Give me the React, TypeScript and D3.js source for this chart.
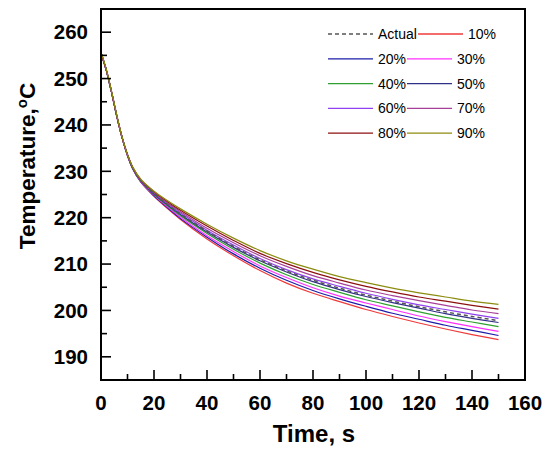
import React from "react";
import * as d3 from "d3";

// Sample times (s)
const times = [0, 2, 4, 6, 8, 10, 12, 15, 20, 25, 30, 40, 50, 60, 70, 80, 90, 100, 110, 120, 130, 140, 150];

// Shared initial cooling segment (t = 0..6 s)
const head = [255.5, 251.8, 247.0, 241.8];

const actual = [...head, 237.2, 233.5, 230.7, 228.0, 225.2, 222.9, 220.8, 217.1, 213.8, 210.9, 208.5, 206.5, 204.8, 203.3, 202.0, 200.8, 199.7, 198.7, 197.8];
const p10 = [...head, 237.2, 233.4, 230.5, 227.7, 224.6, 222.0, 219.6, 215.4, 211.8, 208.6, 205.9, 203.7, 201.9, 200.2, 198.7, 197.3, 196.0, 194.8, 193.7];
const p20 = [...head, 237.2, 233.4, 230.5, 227.7, 224.7, 222.2, 219.8, 215.8, 212.2, 209.1, 206.5, 204.3, 202.5, 200.9, 199.4, 198.1, 196.8, 195.7, 194.6];
const p30 = [...head, 237.2, 233.4, 230.6, 227.8, 224.9, 222.4, 220.1, 216.1, 212.7, 209.6, 207.1, 204.9, 203.1, 201.6, 200.2, 198.8, 197.6, 196.5, 195.5];
const p40 = [...head, 237.2, 233.5, 230.6, 227.9, 225.0, 222.6, 220.4, 216.6, 213.2, 210.2, 207.7, 205.6, 203.9, 202.3, 201.0, 199.7, 198.5, 197.5, 196.5];
const p50 = [...head, 237.2, 233.5, 230.7, 228.0, 225.1, 222.8, 220.7, 216.9, 213.6, 210.7, 208.3, 206.2, 204.5, 203.0, 201.7, 200.5, 199.3, 198.3, 197.4];
const p60 = [...head, 237.2, 233.5, 230.7, 228.0, 225.3, 223.0, 221.0, 217.3, 214.1, 211.2, 208.8, 206.8, 205.2, 203.7, 202.4, 201.2, 200.2, 199.2, 198.3];
const p70 = [...head, 237.2, 233.6, 230.8, 228.1, 225.4, 223.2, 221.3, 217.7, 214.6, 211.8, 209.5, 207.5, 205.9, 204.4, 203.2, 202.1, 201.1, 200.1, 199.3];
const p80 = [...head, 237.2, 233.6, 230.8, 228.2, 225.6, 223.5, 221.6, 218.2, 215.1, 212.3, 210.1, 208.2, 206.6, 205.2, 204.0, 202.9, 202.0, 201.1, 200.3];
const p90 = [255.7, 252.0, 247.2, 242.0, 237.3, 233.6, 230.9, 228.3, 225.7, 223.7, 221.9, 218.6, 215.6, 212.9, 210.7, 208.9, 207.3, 206.0, 204.8, 203.8, 202.9, 202.0, 201.3];

const seriesNames = ["Actual", "10%", "20%", "30%", "40%", "50%", "60%", "70%", "80%", "90%"];
const seriesValues = [actual, p10, p20, p30, p40, p50, p60, p70, p80, p90];
const seriesColors = ["#555555", "#f03a3a", "#1c1ca8", "#ff30ff", "#30a030", "#303088", "#9040f0", "#a8409a", "#8c1010", "#8c8c10"];

const xTicks = [0, 20, 40, 60, 80, 100, 120, 140, 160];
const yTicks = [190, 200, 210, 220, 230, 240, 250, 260];

const W = 551;
const H = 453;
const left = 101;
const right = 525;
const top = 9;
const bottom = 380;

export default function App() {
  const x = d3.scaleLinear().domain([0, 160]).range([left, right]);
  const y = d3.scaleLinear().domain([185, 265]).range([bottom, top]);

  const line = d3
    .line<number>()
    .x((_, i) => x(times[i]))
    .y((v) => y(v))
    .curve(d3.curveCatmullRom.alpha(0.5));

  const xMinor = d3.range(10, 160, 20);
  const yMinor = d3.range(195, 265, 10);

  const font = "'Liberation Sans', Arial, sans-serif";

  // percentage series first, dashed actual over the middle ones, 90% last
  const drawOrder = [1, 2, 3, 4, 5, 6, 7, 8, 0, 9];

  const legendRows = [
    [0, 1],
    [2, 3],
    [4, 5],
    [6, 7],
    [8, 9],
  ];

  return (
    <svg
      width={W}
      height={H}
      style={{ position: "absolute", left: 0, top: 0, background: "#fff" }}
      fontFamily={font}
    >
      <rect width={W} height={H} fill="#fff" />

      <defs>
        <clipPath id="plotArea">
          <rect x={left} y={top} width={right - left} height={bottom - top} />
        </clipPath>
      </defs>

      {/* cooling curves */}
      <g clipPath="url(#plotArea)">
        {drawOrder.map((k) => (
          <path
            key={seriesNames[k]}
            d={line(seriesValues[k]) || ""}
            fill="none"
            stroke={seriesColors[k]}
            strokeWidth={k === 0 ? 1.5 : 1.2}
            strokeDasharray={k === 0 ? "4,3" : undefined}
          />
        ))}
      </g>

      {/* frame */}
      <rect
        x={left}
        y={top}
        width={right - left}
        height={bottom - top}
        fill="none"
        stroke="#000"
        strokeWidth={2}
      />

      {/* x ticks */}
      {xTicks.map((t) => (
        <g key={"xt" + t}>
          <line x1={x(t)} x2={x(t)} y1={bottom} y2={bottom - 10} stroke="#000" strokeWidth={1.6} />
          <text x={x(t)} y={410} textAnchor="middle" fontSize={20.5} fontWeight="bold" fill="#000">
            {t}
          </text>
        </g>
      ))}
      {xMinor.map((t) => (
        <line key={"xm" + t} x1={x(t)} x2={x(t)} y1={bottom} y2={bottom - 6} stroke="#000" strokeWidth={1.6} />
      ))}

      {/* y ticks */}
      {yTicks.map((v) => (
        <g key={"yt" + v}>
          <line x1={left} x2={left + 10} y1={y(v)} y2={y(v)} stroke="#000" strokeWidth={1.6} />
          <text x={88} y={y(v) + 7.3} textAnchor="end" fontSize={20.5} fontWeight="bold" fill="#000">
            {v}
          </text>
        </g>
      ))}
      {yMinor.map((v) => (
        <line key={"ym" + v} x1={left} x2={left + 6} y1={y(v)} y2={y(v)} stroke="#000" strokeWidth={1.6} />
      ))}

      {/* axis titles */}
      <text x={314} y={442} textAnchor="middle" fontSize={24} fontWeight="bold" fill="#000">
        Time, s
      </text>
      <text
        transform={`translate(35, 166) rotate(-90)`}
        textAnchor="middle"
        fontSize={22.5}
        fontWeight="bold"
        fill="#000"
      >
        Temperature,
        <tspan fontSize={15} dy={-8}>o</tspan>
        <tspan dy={8}>C</tspan>
      </text>

      {/* legend */}
      {legendRows.map((row, r) => {
        const yy = 34 + r * 24.8;
        const col2Start = r === 0 ? 418 : 407;
        return (
          <g key={"lg" + r}>
            <line
              x1={328}
              x2={373}
              y1={yy}
              y2={yy}
              stroke={seriesColors[row[0]]}
              strokeWidth={row[0] === 0 ? 1.5 : 1.3}
              strokeDasharray={row[0] === 0 ? "4,3" : undefined}
            />
            <text x={378} y={yy + 5} fontSize={14} fill="#000">
              {seriesNames[row[0]]}
            </text>
            <line
              x1={col2Start}
              x2={col2Start + 45}
              y1={yy}
              y2={yy}
              stroke={seriesColors[row[1]]}
              strokeWidth={1.3}
            />
            <text x={col2Start + 50} y={yy + 5} fontSize={14} fill="#000">
              {seriesNames[row[1]]}
            </text>
          </g>
        );
      })}
    </svg>
  );
}
